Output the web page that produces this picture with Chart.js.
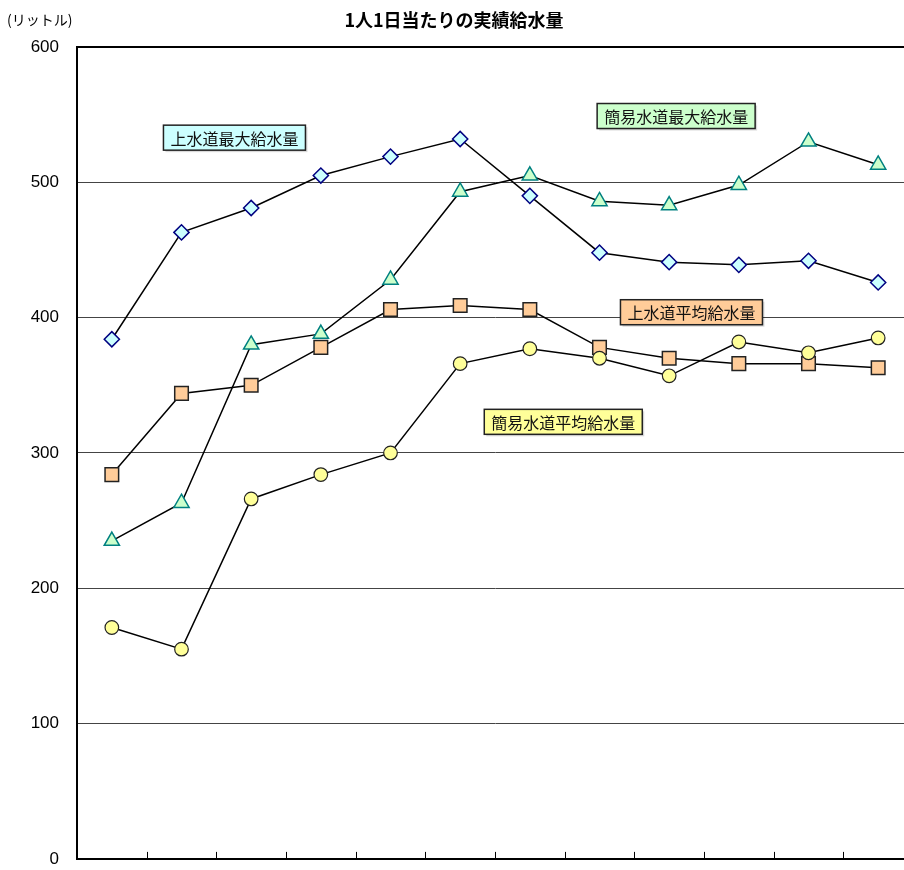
<!DOCTYPE html>
<html>
<head>
<meta charset="utf-8">
<script src="https://cdn.jsdelivr.net/npm/chart.js@4/dist/chart.umd.min.js"></script>
<style>
  html, body { margin: 0; padding: 0; background: #fff; overflow: hidden; }
  #wrap { width: 930px; height: 870px; }
</style>
</head>
<body>
<div id="wrap"><canvas id="myChart" width="930" height="870"></canvas></div>
<script>
const ctx = document.getElementById('myChart');

// 12 periods, no labels are shown on the x axis
const categories = ['1', '2', '3', '4', '5', '6', '7', '8', '9', '10', '11', '12'];
const yTicks = [0, 100, 200, 300, 400, 500, 600];

const josuiMax = [384, 463, 481, 505, 519, 532, 490, 448, 441, 439, 442, 426];
const kanniMax = [235, 263, 380, 388, 428, 493, 505, 486, 483, 498, 530, 513];
const josuiAvg = [284, 344, 350, 378, 406, 409, 406, 378, 370, 366, 366, 363];
const kanniAvg = [171, 155, 266, 284, 300, 366, 377, 370, 357, 382, 374, 385];

// label boxes placed in data coordinates (category index, value)
const boxTexts = ['上水道最大給水量', '簡易水道最大給水量', '上水道平均給水量', '簡易水道平均給水量'];
const boxAt = [[1.76, 533], [8.1, 549], [8.32, 404], [6.48, 323]];
const boxColors = ['#ccffff', '#ccffcc', '#ffcc99', '#ffff99'];

const title = '1人1日当たりの実績給水量';
const unit = '(リットル)';

// plot area runs past the right edge of the window, like the original
const plotRight = 913;

const extras = {
  id: 'extras',
  afterDatasetsDraw(chart) {
    const c = chart.ctx;
    const xs = chart.scales.x, ys = chart.scales.y;
    const bottom = chart.chartArea.bottom;
    // short tick marks pointing into the plot between categories
    c.save();
    c.strokeStyle = '#000';
    c.lineWidth = 1;
    for (let i = 1; i < categories.length; i++) {
      const px = Math.round((xs.getPixelForValue(i - 1) + xs.getPixelForValue(i)) / 2) + 0.5;
      c.beginPath();
      c.moveTo(px, bottom);
      c.lineTo(px, bottom - 7);
      c.stroke();
    }
    // series label boxes
    c.font = '16px "Noto Sans CJK JP"';
    c.textAlign = 'center';
    c.textBaseline = 'middle';
    boxTexts.forEach((t, i) => {
      const cx = xs.getPixelForValue(boxAt[i][0]);
      const cy = ys.getPixelForValue(boxAt[i][1]);
      const w = c.measureText(t).width + 14;
      const h = 25;
      c.fillStyle = 'rgba(0,0,0,0.15)';
      c.fillRect(cx - w / 2 + 2, cy - h / 2 + 2, w, h);
      c.fillStyle = boxColors[i];
      c.fillRect(cx - w / 2, cy - h / 2, w, h);
      c.strokeStyle = '#222';
      c.lineWidth = 1.5;
      c.strokeRect(cx - w / 2, cy - h / 2, w, h);
      c.fillStyle = '#111';
      c.fillText(t, cx, cy + 1);
    });
    c.restore();
  },
  afterDraw(chart) {
    const c = chart.ctx;
    c.save();
    c.fillStyle = '#000';
    c.textBaseline = 'middle';
    c.textAlign = 'center';
    c.font = 'bold 18px "Noto Sans CJK JP"';
    c.fillText(title, 454, 20);
    c.textAlign = 'left';
    c.font = '14px "Noto Sans CJK JP"';
    c.fillText(unit, 7, 20);
    c.restore();
  }
};

let dataChart = new Chart(ctx, {
  type: 'line',
  data: {
    labels: categories,
    datasets: [
      {
        label: '簡易水道平均給水量', data: kanniAvg, order: 0,
        borderColor: '#000', borderWidth: 1.5,
        pointStyle: 'circle', pointRadius: 6.8, pointBackgroundColor: '#ffff99',
        pointBorderColor: '#222', pointBorderWidth: 1.2
      },
      {
        label: '上水道平均給水量', data: josuiAvg, order: 1,
        borderColor: '#000', borderWidth: 1.5,
        pointStyle: 'rect', pointRadius: 9.6, pointBackgroundColor: '#ffcc99',
        pointBorderColor: '#222', pointBorderWidth: 1.5
      },
      {
        label: '簡易水道最大給水量', data: kanniMax, order: 2,
        borderColor: '#000', borderWidth: 1.5,
        pointStyle: 'triangle', pointRadius: 8.8, pointBackgroundColor: '#ccffcc',
        pointBorderColor: '#008080', pointBorderWidth: 1.5
      },
      {
        label: '上水道最大給水量', data: josuiMax, order: 3,
        borderColor: '#000', borderWidth: 1.5,
        pointStyle: 'rectRot', pointRadius: 7.6, pointBackgroundColor: '#ccffff',
        pointBorderColor: '#000080', pointBorderWidth: 1.5
      }
    ]
  },
  options: {
    responsive: false,
    animation: false,
    layout: { padding: { top: 47, bottom: 10, left: 0, right: 17 } },
    scales: {
      x: {
        offset: true,
        ticks: { display: false },
        grid: { color: 'rgba(0,0,0,0)', drawTicks: false, offset: true },
        border: { display: true, color: '#000', width: 2 },
        afterFit: (scale) => {
          scale.height = 0;
          scale.paddingLeft = 0; scale.paddingRight = 0;
        }
      },
      y: {
        min: 0, max: 600,
        afterBuildTicks: (scale) => { scale.ticks = yTicks.map((v) => ({ value: v })); },
        ticks: {
          color: '#000', padding: 18,
          font: { family: '"Liberation Sans", Arial', size: 17 }
        },
        grid: {
          drawTicks: false,
          color: (c) => (c.tick && c.tick.value === 600 ? '#000' : '#444'),
          lineWidth: (c) => (c.tick && c.tick.value === 600 ? 2 : 1)
        },
        border: { display: true, color: '#000', width: 2 },
        afterFit: (scale) => {
          scale.width = 77;
          scale.paddingTop = 0; scale.paddingBottom = 0;
        }
      }
    },
    plugins: {
      legend: { display: false },
      tooltip: { enabled: false }
    }
  },
  plugins: [extras]
});

// nudge right padding so the plot ends where the original one does
const diff = dataChart.chartArea.right - plotRight;
if (Math.abs(diff) > 0.5) {
  dataChart.options.layout.padding.right += diff;
  dataChart.update();
}
</script>
</body>
</html>
